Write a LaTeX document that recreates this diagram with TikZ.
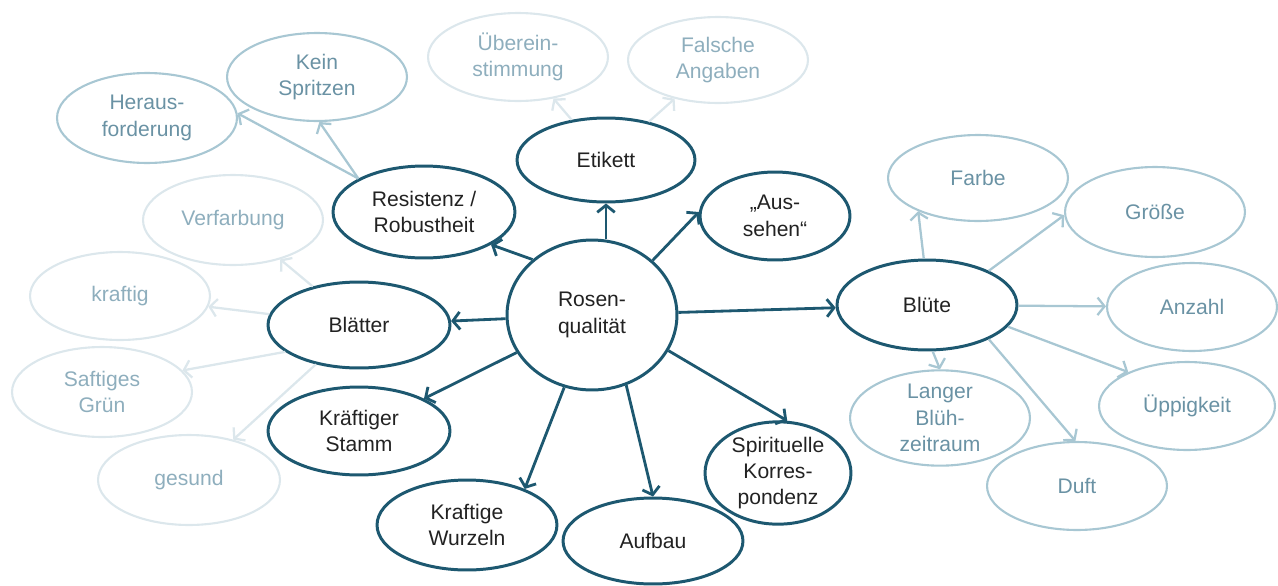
\documentclass[tikz,border=0pt]{standalone}
\usepackage{fontspec}
\setmainfont{Liberation Sans}
\usetikzlibrary{shapes.geometric,arrows.meta}
\definecolor{dk}{HTML}{1D5870}
\definecolor{dktext}{HTML}{222222}
\definecolor{md}{HTML}{A8C7D3}
\definecolor{mdtext}{HTML}{6A92A4}
\definecolor{lt}{HTML}{DCE7EC}
\definecolor{lttext}{HTML}{8EAEBD}
\tikzset{
  base/.style={ellipse, inner sep=0pt, align=center, font=\fontsize{12}{15}\selectfont},
  darknode/.style={base, draw=dk, line width=1.7pt, text=dktext},
  mednode/.style={base, draw=md, line width=1.2pt, text=mdtext},
  lightnode/.style={base, draw=lt, line width=1.2pt, text=lttext},
  sz/.style 2 args={minimum width=#1*0.04cm, minimum height=#2*0.04cm},
  darkarrow/.style={draw=dk, line width=1.6pt, -{Straight Barb[length=4pt,width=10pt,line width=1.6pt]}},
  medarrow/.style={draw=md, line width=1.3pt, -{Straight Barb[length=4pt,width=10pt,line width=1.3pt]}},
  lightarrow/.style={draw=lt, line width=1.3pt, -{Straight Barb[length=4pt,width=10pt,line width=1.3pt]}},
}
\begin{document}
\begin{tikzpicture}[x=0.02cm,y=-0.02cm]
\useasboundingbox (0,0) rectangle (1278,585);
% dark nodes
\node[darknode, sz={85}{75}] (c) at (592,315) {Rosen-\\qualität};
\node[darknode, sz={89}{42}] (eti) at (606,160) {Etikett};
\node[darknode, sz={75}{44}] (aus) at (775,216) {„Aus-\\sehen“};
\node[darknode, sz={91}{46}] (res) at (424,212) {Resistenz /\\Robustheit};
\node[darknode, sz={91}{43}] (bla) at (359,325) {Blätter};
\node[darknode, sz={91}{44}] (sta) at (359,431) {Kräftiger\\Stamm};
\node[darknode, sz={90}{45}] (wur) at (467,525) {Kraftige\\Wurzeln};
\node[darknode, sz={90}{43}] (auf) at (653,541) {Aufbau};
\node[darknode, sz={73}{45}] (spi) at (778,473) {Spirituelle\\Korres-\\pondenz};
\node[darknode, sz={90}{45}] (blu) at (927,305) {Blüte};
% medium nodes
\node[mednode, sz={90}{43}] (far) at (978,178) {Farbe};
\node[mednode, sz={90}{45}] (gro) at (1155,212) {Größe};
\node[mednode, sz={85}{44}] (anz) at (1192,307) {Anzahl};
\node[mednode, sz={88}{44}] (upp) at (1187,406) {Üppigkeit};
\node[mednode, sz={90}{45}] (lan) at (940,418) {Langer\\Blüh-\\zeitraum};
\node[mednode, sz={90}{44}] (duf) at (1077,486) {Duft};
\node[mednode, sz={90}{45}] (her) at (147,118) {Heraus-\\forderung};
\node[mednode, sz={90}{44}] (kei) at (317,77) {Kein\\Spritzen};
% light nodes
\node[lightnode, sz={90}{44}] (ube) at (518,57) {Überein-\\stimmung};
\node[lightnode, sz={90}{43}] (fal) at (718,60) {Falsche\\Angaben};
\node[lightnode, sz={90}{45}] (ver) at (233,220) {Verfarbung};
\node[lightnode, sz={90}{44}] (kra) at (120,296) {kraftig};
\node[lightnode, sz={90}{45}] (saf) at (102,392) {Saftiges\\Grün};
\node[lightnode, sz={91}{45}] (ges) at (189,480) {gesund};
% dark arrows
\draw[darkarrow] (c.north -| eti.south) -- (eti.south);
\draw[darkarrow] (c.42) -- (aus.177);
\draw[darkarrow] (c.137) -- (res.334);
\draw[darkarrow] (c) -- (bla);
\draw[darkarrow] (c) -- (sta);
\draw[darkarrow] (c.249) -- (wur.32);
\draw[darkarrow] (c.296) -- (auf.90);
\draw[darkarrow] (c.335) -- (spi.80);
\draw[darkarrow] (c) -- (blu);
% medium arrows
\draw[medarrow] (res.153) -- (her.3);
\draw[medarrow] (res.153) -- (kei.273);
\draw[medarrow] (blu.94) -- (far.209);
\draw[medarrow] (blu.29) -- (gro.182);
\draw[medarrow] (blu) -- (anz);
\draw[medarrow] (blu.-15) -- (upp.150);
\draw[medarrow] (blu.-29) -- (duf.92);
\draw[medarrow] (blu.-83) -- (lan.north);
% light arrows
\draw[lightarrow] (eti) -- (ube);
\draw[lightarrow] (eti) -- (fal);
\draw[lightarrow] (bla) -- (ver);
\draw[lightarrow] (bla) -- (kra);
\draw[lightarrow] (bla.200) -- (saf.15);
\draw[lightarrow] (bla) -- (ges);
\end{tikzpicture}
\end{document}
